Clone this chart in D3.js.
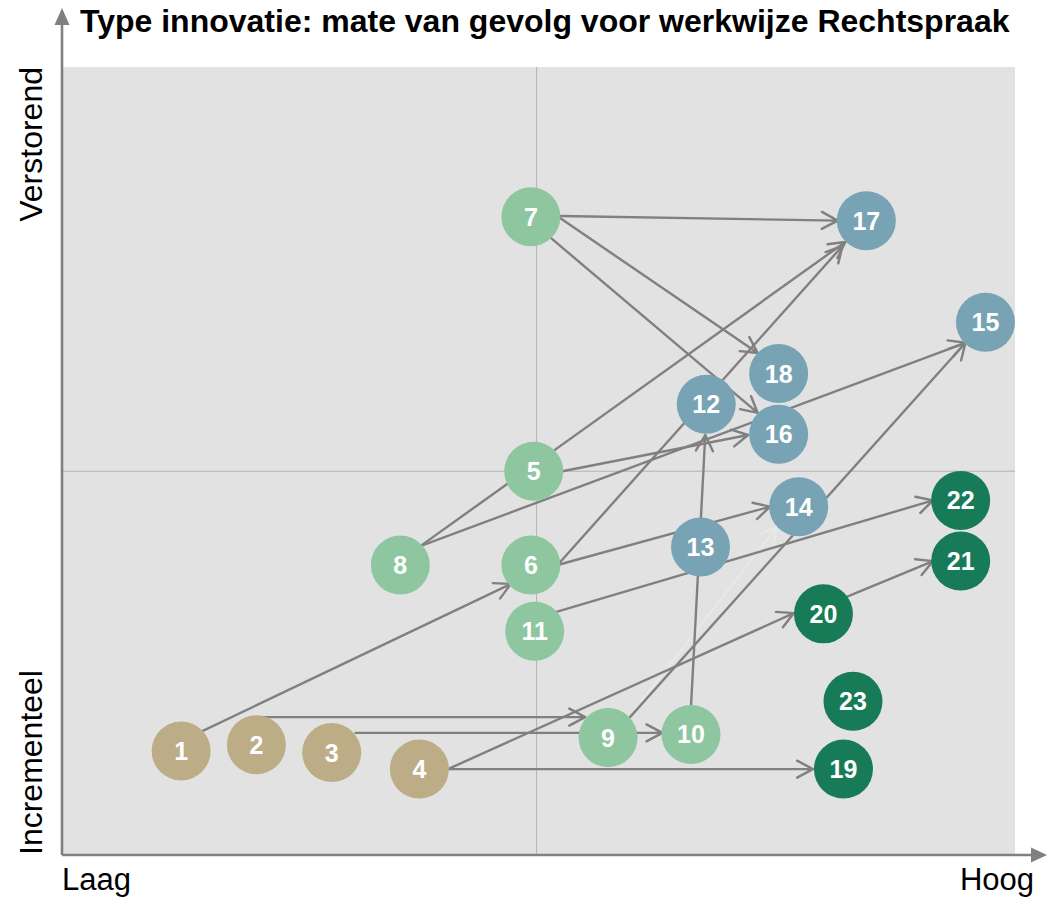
<!DOCTYPE html>
<html>
<head>
<meta charset="utf-8">
<script src="https://cdn.jsdelivr.net/npm/d3@7"></script>
<style>
  html, body { margin: 0; padding: 0; background: #ffffff; }
  svg { display: block; }
  text { font-family: "Liberation Sans", Arial, Helvetica, sans-serif; }
</style>
</head>
<body>
<svg id="chart" width="1047" height="901"></svg>
<script>
// Innovation items: position on "impact on working method" (x) vs "type of innovation" (y), 0–100 scale
const nodeLabels = ["1","2","3","4","5","6","7","8","9","10","11","12","13","14","15","16","17","18","19","20","21","22","23"];
const nodeX = [12.5, 20.4, 28.3, 37.5, 49.5, 49.2, 49.2, 35.5, 57.3, 66.0, 49.6, 67.6, 67.0, 77.3, 96.9, 75.2, 84.4, 75.2, 82.0, 79.9, 94.3, 94.3, 83.0];
const nodeY = [13.2, 14.0, 13.0, 10.9, 48.7, 36.8, 81.0, 36.8, 14.9, 15.3, 28.4, 57.2, 39.1, 44.2, 67.6, 53.4, 80.5, 61.1, 10.9, 30.6, 37.3, 45.0, 19.5];
const nodeGroup = ["A","A","A","A","B","B","B","B","B","B","B","C","C","C","C","C","C","C","D","D","D","D","D"];

// Transitions between items: start and end points (same 0–100 scale)
const arrowFrom = ["1","2","3","4","4","8","8","9","5","6","6","7","7","7","10","11","20"];
const arrowTo   = ["6","9","10","19","20","17","15","15","16","14","17","17","18","16","12","22","21"];
const arrowX1 = [14.5, 20.4, 30.8, 40.5, 40.5, 37.6, 37.6, 59.6, 52.5, 52.0, 52.0, 52.3, 52.3, 51.2, 66.0, 51.7, 82.2];
const arrowY1 = [15.6, 17.5, 15.5, 10.9, 10.9, 39.2, 39.2, 17.5, 48.7, 36.8, 36.8, 81.1, 80.8, 78.4, 18.8, 30.8, 32.7];
const arrowX2 = [47.1, 54.9, 63.0, 78.8, 76.8, 82.2, 94.8, 94.8, 72.0, 74.3, 81.9, 81.4, 73.0, 73.0, 67.5, 91.4, 91.4];
const arrowY2 = [34.4, 17.5, 15.5, 10.9, 30.7, 77.8, 65.0, 65.0, 53.3, 44.2, 77.3, 80.5, 63.7, 56.1, 53.3, 45.0, 37.3];

// Barely visible transition 9 -> 14
const faintX1 = [59.9], faintY1 = [18.1], faintX2 = [75.0], faintY2 = [41.6];

// Quadrant dividers
const midX = 49.8;
const midY = 48.7;

const titleText = "Type innovatie: mate van gevolg voor werkwijze Rechtspraak";
const xLabels = ["Laag", "Hoog"];
const yLabels = ["Incrementeel", "Verstorend"];

// ---- styling ----
const groupColor = { A: "#bcad86", B: "#8dc69f", C: "#78a3b4", D: "#187b57" };
const plot = { left: 62, right: 1015, top: 67, bottom: 855 };
const radius = 29.5;
const lineColor = "#808080";

const svg = d3.select("#chart");
const x = d3.scaleLinear().domain([0, 100]).range([plot.left, plot.right]);
const y = d3.scaleLinear().domain([0, 100]).range([plot.bottom, plot.top]);

// plot background
svg.append("rect")
  .attr("x", x(0)).attr("y", y(100))
  .attr("width", x(100) - x(0)).attr("height", y(0) - y(100))
  .attr("fill", "#e2e2e2");

// quadrant lines
svg.append("line")
  .attr("x1", x(midX)).attr("x2", x(midX))
  .attr("y1", y(0)).attr("y2", y(100))
  .attr("stroke", "#b2b2b2").attr("stroke-width", 1);
svg.append("line")
  .attr("x1", x(0)).attr("x2", x(100))
  .attr("y1", y(midY)).attr("y2", y(midY))
  .attr("stroke", "#b2b2b2").attr("stroke-width", 1);

// open chevron arrow path from (x1,y1) to (x2,y2) in pixels
function arrowPath(px1, py1, px2, py2, wing, halfAngle) {
  const ang = Math.atan2(py2 - py1, px2 - px1);
  const p = d3.path();
  p.moveTo(px1, py1);
  p.lineTo(px2, py2);
  p.moveTo(px2 - wing * Math.cos(ang - halfAngle), py2 - wing * Math.sin(ang - halfAngle));
  p.lineTo(px2, py2);
  p.lineTo(px2 - wing * Math.cos(ang + halfAngle), py2 - wing * Math.sin(ang + halfAngle));
  return p.toString();
}

const arrows = arrowFrom.map((f, i) => ({
  from: f, to: arrowTo[i],
  x1: arrowX1[i], y1: arrowY1[i], x2: arrowX2[i], y2: arrowY2[i]
}));
const faint = faintX1.map((v, i) => ({ x1: v, y1: faintY1[i], x2: faintX2[i], y2: faintY2[i] }));

svg.append("g").selectAll("path").data(faint).join("path")
  .attr("d", d => arrowPath(x(d.x1), y(d.y1), x(d.x2), y(d.y2), 17, 0.5))
  .attr("fill", "none").attr("stroke", "#e9e9e9").attr("stroke-width", 1.8)
  .attr("stroke-linecap", "round").attr("stroke-linejoin", "round");

svg.append("g").attr("class", "arrows").selectAll("path").data(arrows).join("path")
  .attr("d", d => arrowPath(x(d.x1), y(d.y1), x(d.x2), y(d.y2), 18, 0.49))
  .attr("fill", "none").attr("stroke", lineColor).attr("stroke-width", 2.4)
  .attr("stroke-linecap", "round").attr("stroke-linejoin", "round");

// items
const nodes = nodeLabels.map((l, i) => ({ label: l, x: nodeX[i], y: nodeY[i], group: nodeGroup[i] }));
const ng = svg.append("g").attr("class", "nodes").selectAll("g").data(nodes).join("g")
  .attr("transform", d => `translate(${x(d.x)},${y(d.y)})`);
ng.append("circle").attr("r", radius).attr("fill", d => groupColor[d.group]);
ng.append("text")
  .attr("text-anchor", "middle").attr("dy", "0.36em")
  .attr("fill", "#ffffff").attr("font-weight", "bold").attr("font-size", 25)
  .text(d => d.label);

// axes with arrowheads
svg.append("line")
  .attr("x1", x(0)).attr("y1", y(0)).attr("x2", x(0)).attr("y2", 22)
  .attr("stroke", lineColor).attr("stroke-width", 2.6);
svg.append("path")
  .attr("d", `M${x(0) - 7.5},25 L${x(0)},8 L${x(0) + 7.5},25 Z`)
  .attr("fill", lineColor);
svg.append("line")
  .attr("x1", x(0)).attr("y1", y(0)).attr("x2", 1033).attr("y2", y(0))
  .attr("stroke", lineColor).attr("stroke-width", 2.6);
svg.append("path")
  .attr("d", `M1031,${y(0) - 7.5} L1047,${y(0)} L1031,${y(0) + 7.5} Z`)
  .attr("fill", lineColor);

// title
svg.append("text")
  .attr("x", 80).attr("y", 32)
  .attr("font-size", 32).attr("font-weight", "bold").attr("fill", "#000")
  .text(titleText);

// axis end labels
svg.append("text").attr("x", x(0)).attr("y", 890)
  .attr("font-size", 31).attr("fill", "#000").text(xLabels[0]);
svg.append("text").attr("x", 1034).attr("y", 890).attr("text-anchor", "end")
  .attr("font-size", 31).attr("fill", "#000").text(xLabels[1]);

svg.append("text")
  .attr("transform", `translate(42,${y(0)}) rotate(-90)`)
  .attr("font-size", 32).attr("fill", "#000").text(yLabels[0]);
svg.append("text")
  .attr("transform", `translate(42,${y(100)}) rotate(-90)`).attr("text-anchor", "end")
  .attr("font-size", 32).attr("fill", "#000").text(yLabels[1]);
</script>
</body>
</html>
